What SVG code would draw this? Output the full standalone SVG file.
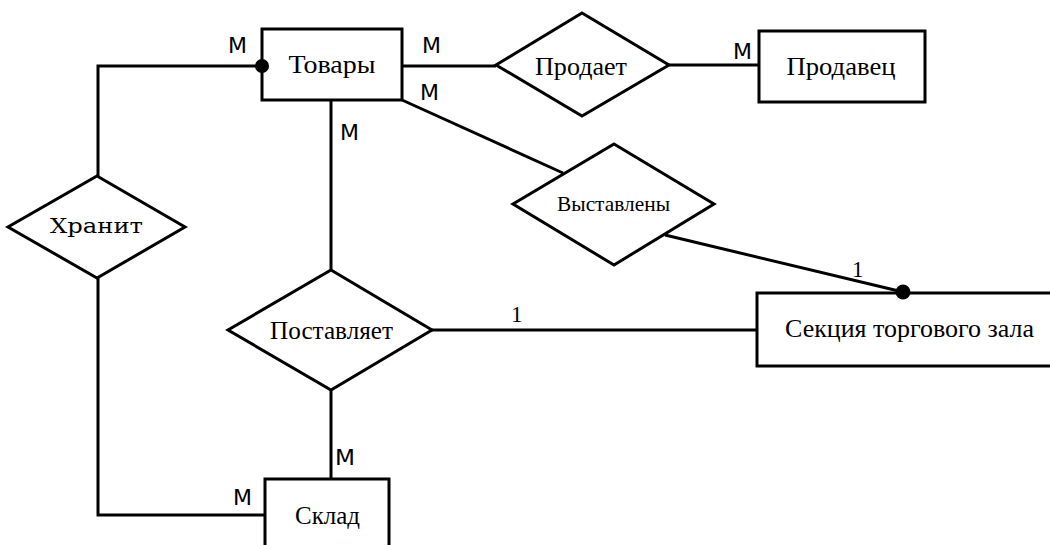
<svg xmlns="http://www.w3.org/2000/svg" width="1050" height="545" viewBox="0 0 1050 545">
<style>
.ent{fill:#fff;stroke:#000;stroke-width:3}
.rel{fill:#fff;stroke:#000;stroke-width:3;stroke-linejoin:miter}
.ln{fill:none;stroke:#000;stroke-width:3}
.lbl{font-family:"Liberation Serif","Times New Roman",serif;font-size:26px;fill:#000;text-anchor:middle}
.slab{font-family:"DejaVu Serif","Liberation Serif",serif;font-size:21px;fill:#000;text-anchor:middle}
.card{font-family:"DejaVu Sans","Liberation Sans",sans-serif;font-size:21px;fill:#000}
.one{font-family:"Liberation Serif","Times New Roman",serif;font-size:23px;fill:#000}
</style>
<rect width="1050" height="545" fill="#fff"/>
<g id="connectors">
<polyline class="ln" points="98,176 98,66 262,66"/>
<polyline class="ln" points="98,278 98,515 265,515"/>
<line class="ln" x1="402" y1="66" x2="496" y2="66"/>
<line class="ln" x1="669" y1="65" x2="759" y2="65"/>
<line class="ln" x1="402" y1="100" x2="563" y2="173"/>
<line class="ln" x1="665" y1="235" x2="903" y2="292"/>
<line class="ln" x1="331" y1="100" x2="331" y2="270"/>
<line class="ln" x1="432" y1="330" x2="757" y2="330"/>
<line class="ln" x1="331" y1="390" x2="331" y2="479"/>
<text class="card" x="228" y="53" textLength="19" lengthAdjust="spacingAndGlyphs">M</text>
<text class="card" x="422" y="53" textLength="19" lengthAdjust="spacingAndGlyphs">M</text>
<text class="card" x="420" y="100" textLength="19" lengthAdjust="spacingAndGlyphs">M</text>
<text class="card" x="340" y="140" textLength="19" lengthAdjust="spacingAndGlyphs">M</text>
<text class="card" x="733" y="59" textLength="19" lengthAdjust="spacingAndGlyphs">M</text>
<text class="card" x="335" y="465" textLength="20" lengthAdjust="spacingAndGlyphs">M</text>
<text class="card" x="233" y="505" textLength="19" lengthAdjust="spacingAndGlyphs">M</text>
<text class="one" x="852" y="277">1</text>
<text class="one" x="511" y="322">1</text>
</g>
<g id="node-tovary">
<rect class="ent" x="262" y="29" width="140" height="71"/>
<text class="lbl" x="332" y="73" textLength="87" lengthAdjust="spacingAndGlyphs">Товары</text>
</g>
<g id="node-prodaet">
<polygon class="rel" points="582,13 669,65 582,116 496,65"/>
<text class="lbl" x="581" y="75" textLength="92" lengthAdjust="spacingAndGlyphs">Продает</text>
</g>
<g id="node-prodavec">
<rect class="ent" x="759" y="31" width="166" height="71"/>
<text class="lbl" x="841" y="75" textLength="109" lengthAdjust="spacingAndGlyphs">Продавец</text>
</g>
<g id="node-hranit">
<polygon class="rel" points="97,176 185,227 97,278 8,227"/>
<text class="slab" x="96.5" y="233" textLength="93" lengthAdjust="spacingAndGlyphs">Хранит</text>
</g>
<g id="node-vystavleny">
<polygon class="rel" points="614,144 714,204 614,265 513,204"/>
<text class="lbl" x="613.5" y="211" style="font-size:22px" textLength="113" lengthAdjust="spacingAndGlyphs">Выставлены</text>
</g>
<g id="node-postavlyaet">
<polygon class="rel" points="331,270 432,330 331,390 228,330"/>
<text class="lbl" x="331.5" y="339" textLength="123" lengthAdjust="spacingAndGlyphs">Поставляет</text>
</g>
<g id="node-sekciya">
<rect class="ent" x="757" y="293" width="310" height="73"/>
<text class="lbl" x="909.5" y="337" textLength="249" lengthAdjust="spacingAndGlyphs">Секция торгового зала</text>
</g>
<g id="node-sklad">
<rect class="ent" x="265" y="479" width="124" height="90"/>
<text class="lbl" x="327.5" y="524" textLength="65" lengthAdjust="spacingAndGlyphs">Склад</text>
</g>
<circle cx="262" cy="66" r="7" fill="#000"/>
<circle cx="903" cy="292" r="7.5" fill="#000"/>
</svg>
